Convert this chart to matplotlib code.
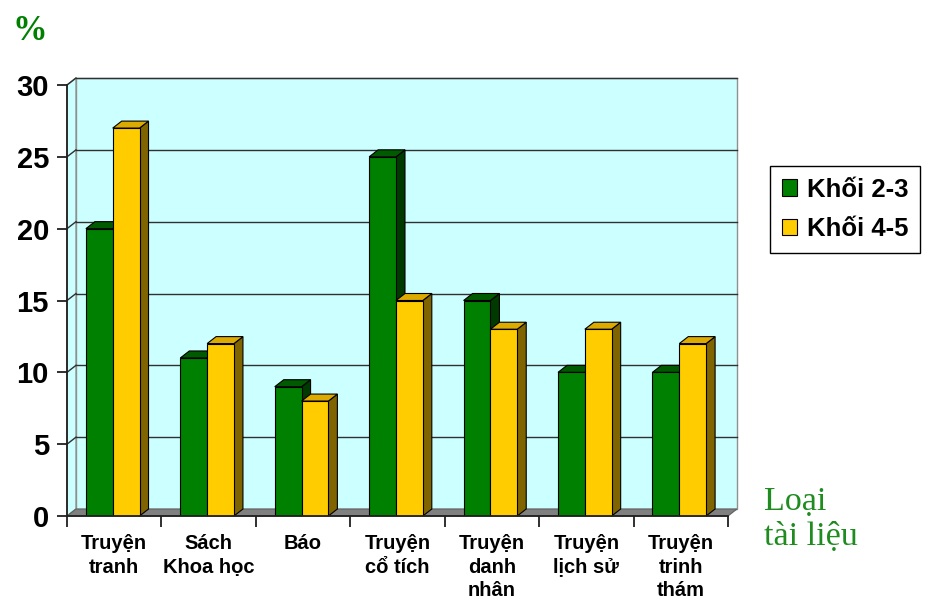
import matplotlib
matplotlib.use("Agg")
import matplotlib.pyplot as plt
from matplotlib.patches import Polygon, Patch
import numpy as np

# Data
categories = ["Truyện\ntranh", "Sách\nKhoa học", "Báo", "Truyện\ncổ tích",
              "Truyện\ndanh\nnhân", "Truyện\nlịch sử", "Truyện\ntrinh\nthám"]
series_names = ["Khối 2-3", "Khối 4-5"]
khoi_23 = [20, 11, 9, 25, 15, 10, 10]
khoi_45 = [27, 12, 8, 15, 13, 13, 12]
y_ticks = [0, 5, 10, 15, 20, 25, 30]

# Face colours (front, top, side) for each series
face_colors = [
    ("#008000", "#005a00", "#003a00"),
    ("#ffcc00", "#ddaa00", "#806400"),
]
wall_color = "#ccffff"
floor_color = "#808080"

W, H = 930, 602
fig = plt.figure(figsize=(W / 100, H / 100), dpi=100)
ax = fig.add_axes([67 / W, 86 / H, 661 / W, 431 / H])
n = len(categories)
ax.set_xlim(0, n)
ax.set_ylim(0, 30)
ax.set_facecolor("none")

# depth offset of the 3-D box, in data units
px_x = 661 / n
px_y = 431 / 30
dx = 9 / px_x
dy = 7 / px_y

# back wall, side wall and floor
ax.add_patch(Polygon([(dx, dy), (n + dx, dy), (n + dx, 30 + dy), (dx, 30 + dy)],
                     closed=True, facecolor=wall_color, edgecolor="#909090",
                     lw=1.0, clip_on=False, zorder=0))
ax.add_patch(Polygon([(0, 0), (dx, dy), (dx, 30 + dy), (0, 30)], closed=True,
                     facecolor=wall_color, edgecolor="#909090", lw=1.0,
                     clip_on=False, zorder=0))
ax.add_patch(Polygon([(0, 0), (n, 0), (n + dx, dy), (dx, dy)], closed=True,
                     facecolor=floor_color, edgecolor="#606060", lw=0.8,
                     clip_on=False, zorder=1))

# gridlines on the back wall with connectors on the side wall
for v in y_ticks[1:]:
    ax.plot([dx, n + dx], [v + dy, v + dy], color="#303030", lw=1.0,
            clip_on=False, zorder=0.5)
    ax.plot([0, dx], [v, v + dy], color="#303030", lw=1.0,
            clip_on=False, zorder=0.5)

# bars with top and side faces
bar_w = 0.284
offsets = [0.2, 0.2 + bar_w]
x = np.arange(n)
for s, vals in enumerate([khoi_23, khoi_45]):
    front, top, side = face_colors[s]
    for i, v in enumerate(vals):
        x0 = x[i] + offsets[s]
        x1 = x0 + bar_w
        z = 2 + s
        ax.add_patch(Polygon([(x1, 0), (x1 + dx, dy), (x1 + dx, v + dy), (x1, v)],
                             closed=True, facecolor=side, edgecolor="black",
                             lw=0.8, clip_on=False, zorder=z))
        ax.add_patch(Polygon([(x0, v), (x1, v), (x1 + dx, v + dy), (x0 + dx, v + dy)],
                             closed=True, facecolor=top, edgecolor="black",
                             lw=0.8, clip_on=False, zorder=z))
    ax.bar(x + offsets[s], vals, width=bar_w, align="edge", color=front,
           edgecolor="black", linewidth=0.8, zorder=2 + s + 0.5)

# axes
for side_name in ("top", "right"):
    ax.spines[side_name].set_visible(False)
for side_name in ("left", "bottom"):
    ax.spines[side_name].set_color("#202020")
    ax.spines[side_name].set_linewidth(1.3)
    ax.spines[side_name].set_zorder(6)

ax.set_yticks(y_ticks)
ax.set_yticklabels([str(t) for t in y_ticks], fontsize=21, fontweight="bold",
                   family="Liberation Sans")
ax.tick_params(axis="y", direction="out", length=7, width=1.3, pad=6,
               color="#202020")

ax.set_xticks(x + 0.5)
ax.set_xticklabels(categories, fontsize=14.5, fontweight="bold",
                   family="Liberation Sans", linespacing=1.3, va="top")
ax.set_xticks(np.arange(n + 1), minor=True)
ax.tick_params(axis="x", which="major", length=0, pad=13)
ax.tick_params(axis="x", which="minor", direction="out", length=8, width=1.3,
               color="#202020")

# legend
handles = [Patch(facecolor=face_colors[k][0], edgecolor="black", lw=0.8)
           for k in range(len(series_names))]
leg = ax.legend(handles, series_names, loc="upper left",
                bbox_to_anchor=(770 / W, 1 - 166 / H),
                bbox_transform=fig.transFigure, frameon=True, fancybox=False,
                edgecolor="black", framealpha=1, borderpad=0.45,
                handlelength=0.6, handleheight=0.6, handletextpad=0.4,
                labelspacing=0.6, borderaxespad=0,
                prop={"family": "Liberation Sans", "weight": "bold", "size": 18.5})
leg.get_frame().set_linewidth(1.0)

# axis titles
fig.text(12 / W, 1 - 40 / H, "%", color="#008000", fontsize=25,
         fontweight="bold", family="Liberation Serif", ha="left", va="baseline")
fig.text(764 / W, 1 - 487 / H, "Loại\ntài liệu", color="#1e8c1e", fontsize=24.5,
         family="Liberation Serif", ha="left", va="top", linespacing=1.17,
         multialignment="left")

fig.savefig("out.png", dpi=100, facecolor="white")
